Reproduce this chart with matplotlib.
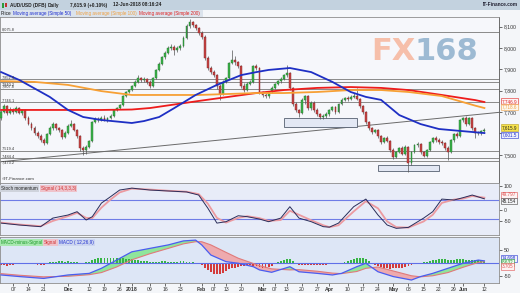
import numpy as np
import pandas as pd
import matplotlib
matplotlib.use("Agg")
import matplotlib.pyplot as plt
from matplotlib.patches import Rectangle
from matplotlib.transforms import blended_transform_factory

plt.rcParams['font.family'] = ['Liberation Sans', 'DejaVu Sans']

# ---------------- data ----------------
opens = [7672,7700,7729,7696,7710,7700,7719,7696,7710,7672,7644,7626,7602,7588,7570,7556,7598,7626,7644,7626,
         7616,7584,7602,7635,7644,7616,7588,7532,7523,7537,7565,7654,7668,7663,7672,7663,7672,7682,7710,7719,
         7733,7775,7794,7803,7822,7841,7859,7850,7855,7841,7822,7859,7897,7925,7957,7976,7999,8004,7990,7999,
         8009,8046,8102,8121,8107,8093,8070,8051,7953,7906,7887,7873,7822,7785,7841,7859,7929,7943,7934,7915,
         7822,7803,7831,7841,7915,7906,7794,7780,7775,7794,7813,7831,7845,7855,7873,7883,7813,7738,7710,7696,
         7757,7775,7719,7743,7710,7691,7677,7682,7691,7710,7724,7700,7738,7757,7766,7761,7771,7775,7761,7729,
         7700,7654,7626,7607,7616,7588,7560,7579,7565,7523,7490,7514,7532,7505,7537,7462,7514,7546,7551,7514,
         7495,7523,7560,7579,7570,7560,7556,7532,7514,7570,7598,7588,7663,7672,7644,7672,7626,7602,7602,7612]
closes = [7700,7729,7696,7710,7700,7719,7696,7710,7672,7644,7626,7602,7588,7570,7556,7598,7626,7644,7626,7616,
          7584,7602,7635,7644,7616,7588,7532,7523,7537,7565,7654,7668,7663,7672,7663,7672,7682,7710,7719,7733,
          7775,7794,7803,7822,7841,7859,7850,7855,7841,7822,7859,7897,7925,7957,7976,7999,8004,7990,7999,8009,
          8046,8102,8121,8107,8093,8070,8051,7953,7906,7887,7873,7822,7785,7841,7859,7929,7943,7934,7915,7822,
          7803,7831,7841,7915,7906,7794,7780,7775,7794,7813,7831,7845,7855,7873,7883,7813,7738,7710,7696,7757,
          7775,7719,7743,7710,7691,7677,7682,7691,7710,7724,7700,7738,7757,7766,7761,7771,7775,7761,7729,7700,
          7654,7626,7607,7616,7588,7560,7579,7565,7523,7490,7514,7532,7505,7537,7462,7514,7546,7551,7514,7495,
          7523,7560,7579,7570,7560,7556,7532,7514,7570,7598,7588,7663,7672,7644,7672,7626,7602,7602,7612,7616]
highs = [7712,7740,7735,7722,7718,7728,7726,7715,7714,7680,7652,7635,7612,7596,7578,7604,7634,7652,7650,7632,
         7620,7610,7645,7665,7650,7622,7594,7540,7545,7570,7660,7675,7676,7680,7686,7678,7690,7716,7726,7738,
         7780,7800,7810,7828,7848,7872,7866,7862,7860,7848,7864,7902,7932,7963,7985,8008,8020,8012,8008,8018,
         8055,8112,8136,8128,8112,8098,8080,8058,7960,7915,7898,7880,7830,7848,7866,7936,7988,7960,7940,7920,
         7835,7840,7850,7922,7925,7912,7800,7788,7800,7820,7838,7852,7862,7880,7918,7888,7818,7745,7716,7764,
         7782,7780,7752,7750,7718,7698,7690,7700,7716,7730,7728,7744,7764,7772,7775,7778,7790,7812,7768,7734,
         7705,7660,7632,7622,7620,7594,7585,7590,7570,7530,7520,7538,7540,7544,7542,7520,7552,7560,7556,7520,
         7528,7565,7585,7586,7578,7568,7562,7540,7575,7604,7608,7668,7678,7680,7677,7676,7632,7612,7618,7624]
lows = [7665,7694,7688,7690,7692,7695,7690,7688,7665,7638,7618,7595,7580,7562,7545,7550,7592,7618,7615,7608,
        7576,7578,7598,7628,7610,7580,7520,7501,7505,7530,7560,7648,7655,7657,7658,7656,7666,7678,7705,7714,
        7728,7770,7788,7798,7815,7835,7842,7840,7830,7812,7818,7855,7890,7920,7950,7970,7990,7968,7982,7992,
        8002,8040,8095,8098,8085,8062,8042,7945,7898,7876,7862,7810,7758,7780,7834,7855,7925,7920,7905,7812,
        7795,7798,7825,7836,7898,7785,7770,7765,7768,7788,7806,7825,7838,7848,7866,7805,7730,7702,7676,7690,
        7740,7712,7710,7702,7684,7668,7668,7674,7684,7704,7692,7695,7732,7750,7754,7756,7765,7755,7720,7692,
        7645,7618,7598,7600,7580,7552,7555,7558,7515,7482,7484,7508,7498,7500,7420,7455,7508,7538,7505,7488,
        7490,7518,7555,7562,7552,7545,7525,7477,7508,7560,7580,7584,7655,7636,7640,7618,7580,7592,7595,7606]

ma50_dates = ['2017-11-01','2017-11-09','2017-11-23','2017-12-01','2017-12-08','2017-12-18','2018-01-01',
              '2018-01-05','2018-01-12','2018-01-19','2018-01-30','2018-02-08','2018-02-20','2018-02-27',
              '2018-03-05','2018-03-14','2018-03-23','2018-04-03','2018-04-11','2018-04-18','2018-04-25',
              '2018-05-03','2018-05-14','2018-05-22','2018-05-31','2018-06-12']
ma50 = [7887,7850,7771,7710,7677,7663,7649,7658,7677,7719,7780,7827,7873,7887,7897,7906,7887,7841,7794,
        7771,7757,7686,7644,7621,7612,7602]
ma_long_dates = ['2017-11-01','2017-11-16','2017-12-01','2017-12-18','2018-01-01','2018-01-09','2018-01-31',
                 '2018-02-27','2018-03-12','2018-03-27','2018-04-11','2018-04-25','2018-05-08','2018-05-23',
                 '2018-06-07','2018-06-12']
ma100 = [7845,7841,7827,7798,7780,7780,7780,7789,7789,7794,7803,7803,7794,7775,7730,7719]
ma200 = [7710,7710,7710,7710,7712,7719,7752,7789,7803,7813,7817,7813,7803,7780,7756,7747]

levels = [8075.8, 7852.4, 7840.2, 7807.8, 7746.1, 7519.4, 7484.4, 7473.2]
level_labels = ['8,075.8', '7,852.4', '7,840.2', '7,807.8', '7,746.1', '7,519.4', '7,484.4', '7,473.2']
trend_points = [('2017-11-01', 7468), ('2018-06-12', 7692)]
zones = [('2018-03-12', '2018-04-13', 7630, 7672), ('2018-04-24', '2018-05-22', 7425, 7453)]

ind_dates = ['2017-11-01','2017-11-09','2017-11-20','2017-11-24','2017-12-01','2017-12-06','2017-12-11',
             '2017-12-13','2017-12-18','2017-12-21','2017-12-26','2018-01-01','2018-01-09','2018-01-17',
             '2018-01-25','2018-01-31','2018-02-05','2018-02-08','2018-02-13','2018-02-19','2018-02-22',
             '2018-02-28','2018-03-05','2018-03-09','2018-03-14','2018-03-19','2018-03-23','2018-03-29',
             '2018-04-02','2018-04-05','2018-04-12','2018-04-18','2018-04-24','2018-04-27','2018-05-02',
             '2018-05-08','2018-05-15','2018-05-18','2018-05-23','2018-05-29','2018-06-01','2018-06-06',
             '2018-06-12']
smi = [-57,-65,-72,-36,-23,-9,-44,-30,27,54,82,90,82,78,74,61,6,-57,-51,-26,-30,-40,-51,-36,12,-36,-51,
       -72,-74,-57,12,44,-23,-65,-79,-75,-36,-9,44,40,50,61,45]
smi_signal = [-55,-63,-70,-48,-28,-14,-35,-36,8,42,72,88,84,79,75,65,25,-35,-55,-35,-28,-36,-48,-44,-5,-22,
              -45,-66,-74,-66,-8,35,5,-50,-74,-76,-50,-22,28,42,46,57,50]

macd_dates = ['2017-11-01','2017-11-09','2017-11-21','2017-12-01','2017-12-12','2017-12-18','2017-12-25',
              '2018-01-01','2018-01-09','2018-01-17','2018-01-24','2018-01-30','2018-02-01','2018-02-06',
              '2018-02-13','2018-02-19','2018-02-26','2018-02-28','2018-03-06','2018-03-14','2018-03-19',
              '2018-03-27','2018-04-03','2018-04-06','2018-04-13','2018-04-18','2018-04-24','2018-05-01',
              '2018-05-09','2018-05-14','2018-05-18','2018-05-25','2018-06-01','2018-06-08','2018-06-12']
macd = [-45,-51,-58,-45,-39,-20,11,42,55,68,83,86,68,30,5,-1,-14,-26,-35,-14,-33,-39,-45,-39,-14,-1,-33,
        -51,-64,-51,-39,-20,-1,11,8]
macd_signal = [-40,-46,-52,-50,-44,-36,-15,12,35,55,72,80,80,68,40,18,-2,-10,-22,-26,-25,-31,-38,-40,-32,
               -20,-15,-30,-48,-52,-48,-36,-16,2,5]
macd_hist = [-6,-8,-10,-8,-6,-5,-3, 0,0,-2,-2, -4,-6,-8,-6,-3,
             2,4,5,6,6,5,6,5,4,3,1, 0,2,5,
             10,14,17,19,20,20,19,20,19,18,17,16,15,14,12,10,8,7,
             6,5,5,4,5,6,6,5,5,4,5,6,6,5,4,3,1,
             -3,-8,-18,-28,-35,-40,-42,-40,-36,-30,-24,-20,-17,-15,-12,-10,-9,-9,-10,-12,
             -14,-18,-20,-16,-10,-4, 3,8,12,15,14,8,
             -2,-6,-8,-8,-7,-6,-7,-8,-8,-7,-6,-5,-5,-4,-3,-1,
             4,8,12,16,18,20,18,14,8,
             -2,-8,-12,-15,-18,-20,-22,-20,-18,-20,-18,-15,-12,-8,-5,-3,-1,
             2,5,8,10,12,14,15,14,12,11,12,14,15,14,13,12,12,13,12,10,8]

tick_dates = ['2017-11-07','2017-11-14','2017-11-21','2017-12-01','2017-12-12','2017-12-19','2017-12-26',
              '2018-01-01','2018-01-09','2018-01-16','2018-01-23','2018-02-01','2018-02-07','2018-02-13',
              '2018-02-20','2018-03-01','2018-03-07','2018-03-13','2018-03-20','2018-03-27','2018-04-02',
              '2018-04-10','2018-04-17','2018-04-24','2018-05-01','2018-05-08','2018-05-15','2018-05-22',
              '2018-05-29','2018-06-01','2018-06-12']
tick_labels = ['07','14','21','Dec','12','19','26','2018','09','16','23','Feb','07','13','20','Mar','07','13',
               '20','27','Apr','10','17','24','May','08','15','22','29','Jun','12']

price_ticks = [7500, 7600, 7700, 7800, 7900, 8000, 8100]
price_tick_labels = ['7,500', '', '7,700', '7,800', '7,900', '8,000', '8,100']

# ---------------- helpers ----------------
dates = pd.bdate_range('2017-11-01', periods=len(closes))
pos = np.arange(len(closes))

def ix(ds):
    return dates.get_indexer(pd.to_datetime(ds)).astype(float)

O = np.array(opens, float); C = np.array(closes, float)
H = np.array(highs, float); L = np.array(lows, float)

W, Hh = 520, 293
fig = plt.figure(figsize=(W/100, Hh/100), dpi=100)
fig.patch.set_facecolor('#f4f6f9')

def fy(py):
    return 1 - py / Hh

def fx(px):
    return px / W

XL = (-0.36, 163.8)
ax_w = fx(499)

# title bar + legend bar
fig.patches.append(Rectangle((0, fy(10)), 1, 10/Hh, transform=fig.transFigure,
                             fc='#c3d2df', ec='none', zorder=0))
fig.patches.append(Rectangle((0, fy(16.5)), fx(203), 6.5/Hh, transform=fig.transFigure,
                             fc='#dbe3ec', ec='none', zorder=0))
ts = 3.4
fig.text(fx(10), fy(5), 'AUD/USD (DFB)', fontsize=ts, va='center', fontweight='bold', color='#222')
fig.text(fx(48), fy(5), 'Daily', fontsize=ts, va='center', fontweight='bold', color='#222')
fig.text(fx(70), fy(5), '7,615.9 (+0.10%)', fontsize=ts, va='center', fontweight='bold', color='#222')
fig.text(fx(113), fy(5), '12-Jun-2018 08:16:24', fontsize=ts, va='center', fontweight='bold', color='#222')
fig.text(fx(518), fy(5), 'IT-Finance.com', fontsize=ts, va='center', ha='right', fontweight='bold', color='#223')
fig.patches.append(Rectangle((fx(2), fy(8)), fx(2), 5/Hh, transform=fig.transFigure, fc='#2a9a3a', ec='none'))
fig.patches.append(Rectangle((fx(5), fy(7)), fx(2), 4/Hh, transform=fig.transFigure, fc='#c03030', ec='none'))

ls = 3.3
fig.text(fx(1), fy(13.3), 'Price', fontsize=ls, va='center', color='#111')
fig.text(fx(13), fy(13.3), 'Moving average (Simple 50)', fontsize=ls, va='center', color='#2030d0')
fig.text(fx(76), fy(13.3), 'Moving average (Simple 100)', fontsize=ls, va='center', color='#f0a040')
fig.text(fx(139), fy(13.3), 'Moving average (Simple 200)', fontsize=ls, va='center', color='#e02020')

# ---------------- main panel ----------------
ax = fig.add_axes([0, fy(183), ax_w, (183-17)/Hh])
ax.set_facecolor('#f6f7fb')
ax.set_xlim(*XL)
ax.set_ylim(7368.6, 8144.4)

lt = blended_transform_factory(ax.transAxes, ax.transData)
for k, (lv, lab) in enumerate(zip(levels, level_labels)):
    ax.axhline(lv, color='#8a8a8a', lw=0.7, zorder=1)
    below = (k == len(levels) - 1) or (k == 2)
    ax.text(0.003, lv, lab, transform=lt, fontsize=2.8, color='#333',
            va='top' if below else 'bottom', ha='left', zorder=6)

(t0d, t0p), (t1d, t1p) = trend_points
ax.axline((ix([t0d])[0], t0p), (ix([t1d])[0], t1p), color='#6a6a6a', lw=0.7, zorder=1)

for d0, d1, p0, p1 in zones:
    x0, x1 = ix([d0])[0], ix([d1])[0]
    ax.add_patch(Rectangle((x0, p0), x1 - x0, p1 - p0, fc='#e3e8f4', ec='#566070', lw=0.6, zorder=2))

ax.text(fx(371)/ax_w, 0.79, 'FX', transform=ax.transAxes, fontsize=22, fontweight='bold', family='DejaVu Sans',
        color='#f6b59c', alpha=0.85, ha='left', va='center', zorder=1)
ax.text(fx(415)/ax_w, 0.79, '168', transform=ax.transAxes, fontsize=22, fontweight='bold', family='DejaVu Sans',
        color='#8eb0cc', alpha=0.85, ha='left', va='center', zorder=1)

up = C >= O
ax.vlines(pos, L, H, color='#555555', lw=0.5, zorder=3)
body_col = np.where(up, '#3cb44a', '#c94545')
edge_col = np.where(up, '#1f6e2a', '#7a2020')
ax.bar(pos, np.maximum(np.abs(C - O), 1.5), bottom=np.minimum(O, C), width=0.62,
       color=body_col, edgecolor=edge_col, lw=0.3, zorder=4)

ax.plot(ix(ma_long_dates), ma200, color='#ee1c1c', lw=1.3, zorder=5)
ax.plot(ix(ma_long_dates), ma100, color='#f7a035', lw=1.3, zorder=5)
ax.plot(ix(ma50_dates), ma50, color='#1e2fc4', lw=1.3, zorder=5)

ax.text(0.003, 0.01, '\u00a9IT-Finance.com', transform=ax.transAxes, fontsize=3.2, color='#333',
        va='bottom', ha='left')

ax.yaxis.tick_right()
ax.set_yticks(price_ticks)
ax.set_yticklabels(price_tick_labels)
ax.tick_params(axis='y', labelsize=3.7, length=2, width=0.5, pad=1.5, colors='#333')
ax.set_xticks([])
for s in ['top', 'left', 'bottom']:
    ax.spines[s].set_color('#8c8c8c'); ax.spines[s].set_linewidth(0.6)
ax.spines['right'].set_color('#555'); ax.spines['right'].set_linewidth(0.6)

def rlabel(a, yv, txt, tc, fc, ec):
    a.text(1.006, yv, txt, transform=blended_transform_factory(a.transAxes, a.transData),
           fontsize=3.3, color=tc, va='center', ha='left', zorder=10, clip_on=False,
           bbox=dict(boxstyle='square,pad=0.12', fc=fc, ec=ec, lw=0.4))

rlabel(ax, 7750.0, '7,746.9', '#e02020', '#fdf3f3', '#e02020')
rlabel(ax, 7723.0, '7,718.6', '#f0a040', '#fdf8ef', '#f0a040')
rlabel(ax, 7628.0, '7,615.9', '#222222', '#f7e34a', '#b9a020')
rlabel(ax, 7593.0, '7,601.5', '#2030d0', '#eef0fb', '#2030d0')

# ---------------- stochastic momentum ----------------
ax2 = fig.add_axes([0, fy(235), ax_w, (235-183)/Hh])
ax2.set_facecolor('#e8ecf8')
ax2.set_xlim(*XL)
ax2.set_ylim(-107, 111.6)
ax2.axhline(40, color='#6f7ce6', lw=0.8)
ax2.axhline(-40, color='#6f7ce6', lw=0.8)
ax2.plot(ix(ind_dates), smi_signal, color='#ec9aa0', lw=1.3)
ax2.plot(ix(ind_dates), smi, color='#2a2d5a', lw=0.7)
ax2.yaxis.tick_right()
ax2.set_yticks([100, 0, -50])
ax2.set_yticklabels(['100', '0', '-50'])
ax2.tick_params(axis='y', labelsize=3.7, length=2, width=0.5, pad=1.5, colors='#333')
ax2.set_xticks([])
for s in ax2.spines.values():
    s.set_color('#8c8c8c'); s.set_linewidth(0.6)
ax2.text(fx(1)/ax_w, 0.895, 'Stoch momentum', transform=ax2.transAxes, fontsize=3.3, color='#222', va='center',
         bbox=dict(boxstyle='square,pad=0.2', fc='#cfd3dc', ec='none'))
ax2.text(fx(41)/ax_w, 0.895, 'Signal ( 14,3,3,3)', transform=ax2.transAxes, fontsize=3.3, color='#d03030',
         va='center', bbox=dict(boxstyle='square,pad=0.2', fc='#efc3cb', ec='none'))
rlabel(ax2, 62, '49.797', '#e05050', '#fdf3f3', '#e05050')
rlabel(ax2, 35, '45.154', '#222222', '#f4f5f8', '#444444')

# ---------------- MACD ----------------
ax3 = fig.add_axes([0, fy(283), ax_w, (283-237)/Hh])
ax3.set_facecolor('#dde6f6')
ax3.set_xlim(*XL)
ax3.set_ylim(-75.2, 97.7)
mx = ix(macd_dates)
m = np.array(macd, float); sg = np.array(macd_signal, float)
ax3.fill_between(mx, m, sg, where=m >= sg, interpolate=True, color='#8fe59c', lw=0, zorder=1)
ax3.fill_between(mx, m, sg, where=m < sg, interpolate=True, color='#eeaaae', lw=0, zorder=1)
hv = np.array(macd_hist, float)
hp = np.arange(len(hv))
ax3.bar(hp, hv, width=0.6, color=np.where(hv >= 0, '#35b544', '#d43a3a'), lw=0, zorder=2)
ax3.axhline(0, color='#5f6fe8', lw=0.8, zorder=3)
ax3.plot(mx, sg, color='#e07a7a', lw=0.8, zorder=4)
ax3.plot(mx, m, color='#4a5cf0', lw=0.9, zorder=5)
ax3.yaxis.tick_right()
ax3.set_yticks([50, -50])
ax3.set_yticklabels(['50', '-50'])
ax3.tick_params(axis='y', labelsize=3.7, length=2, width=0.5, pad=1.5, colors='#333')
for s in ax3.spines.values():
    s.set_color('#8c8c8c'); s.set_linewidth(0.6)
ax3.text(fx(1)/ax_w, 0.885, 'MACD-minus-Signal', transform=ax3.transAxes, fontsize=3.3, color='#1f9a2c',
         va='center', bbox=dict(boxstyle='square,pad=0.2', fc='#a8e8b0', ec='none'))
ax3.text(fx(44)/ax_w, 0.885, 'Signal', transform=ax3.transAxes, fontsize=3.3, color='#d03030', va='center',
         bbox=dict(boxstyle='square,pad=0.2', fc='#efc3cb', ec='none'))
ax3.text(fx(59)/ax_w, 0.885, 'MACD ( 12,26,9)', transform=ax3.transAxes, fontsize=3.3, color='#2030d0',
         va='center', bbox=dict(boxstyle='square,pad=0.2', fc='#cdd6f0', ec='none'))
rlabel(ax3, 17, '14.698', '#2030d0', '#eef0fb', '#2030d0')
rlabel(ax3, 2, '8.632', '#1f9a2c', '#eefaf0', '#1f9a2c')
rlabel(ax3, -13, '3.705', '#e05050', '#fdf3f3', '#e05050')

ax3.set_xticks(ix(tick_dates))
ax3.set_xticklabels(tick_labels)
for t, lab in zip(ax3.get_xticklabels(), tick_labels):
    if not lab[0].isdigit() or lab == '2018':
        t.set_fontweight('bold')
ax3.tick_params(axis='x', labelsize=3.7, length=2, width=0.5, pad=1.2, colors='#333')

fig.savefig('out.png', dpi=100, facecolor=fig.get_facecolor())
